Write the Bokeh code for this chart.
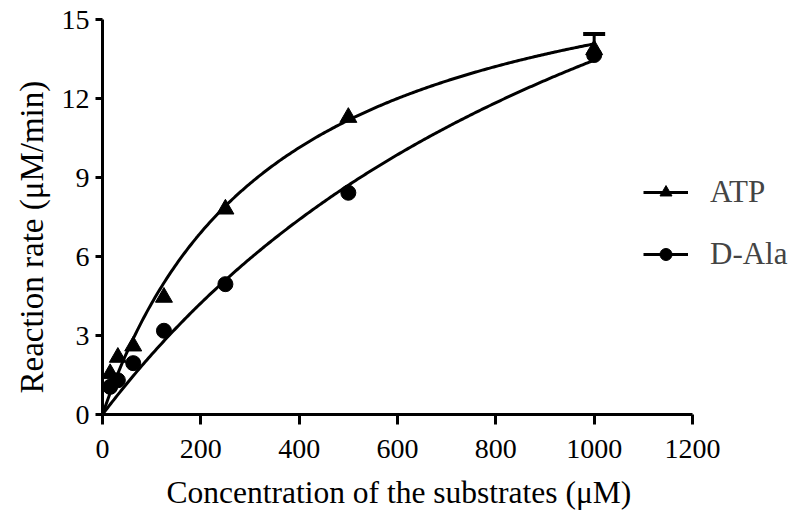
import numpy as np
from bokeh.plotting import figure
from bokeh.models import Range1d, FixedTicker, Legend, LegendItem, Whisker, ColumnDataSource, TeeHead, Title
from bokeh.embed import file_html
from bokeh.resources import INLINE

# ---- data ----
conc = [15.6, 31.25, 62.5, 125, 250, 500, 1000]
atp_rate = [1.55, 2.17, 2.6, 4.45, 7.8, 11.28, 13.85]
dala_rate = [1.05, 1.3, 1.95, 3.18, 4.95, 8.42, 13.65]
atp_err = [0, 0, 0, 0, 0, 0, 0.6]

# Michaelis-Menten fit parameters
atp_vmax, atp_km = 19.0, 350.0
dala_vmax, dala_km = 29.6, 1200.0

x_ticks = [0, 200, 400, 600, 800, 1000, 1200]
y_ticks = [0, 3, 6, 9, 12, 15]
x_axis_max = 1200
x_label = "Concentration of the substrates (μM)"
y_label = "Reaction rate (μM/min)"

FONT = "Liberation Serif"

# frame is wider than the x axis so the legend (which sits to the right) is not clipped
axis_px = 590
frame_w = 692
x_end = x_axis_max * frame_w / axis_px

p = figure(frame_width=frame_w, frame_height=395, output_backend="svg", toolbar_location=None,
           x_range=Range1d(0, x_end), y_range=Range1d(0, 15),
           min_border_left=102, min_border_top=19, min_border_right=4, min_border_bottom=110)
p.outline_line_color = None
p.xgrid.grid_line_color = None
p.ygrid.grid_line_color = None
p.background_fill_color = "white"

xfit = np.linspace(0, 1000, 300)
atp_fit = atp_vmax * xfit / (atp_km + xfit)
dala_fit = dala_vmax * xfit / (dala_km + xfit)

r_atp_line = p.line(xfit, atp_fit, line_color="black", line_width=3)
r_dala_line = p.line(xfit, dala_fit, line_color="black", line_width=3)

err_idx = [i for i, e in enumerate(atp_err) if e > 0]
src_err = ColumnDataSource(dict(x=[conc[i] for i in err_idx], lo=[atp_rate[i] for i in err_idx],
                                hi=[atp_rate[i] + atp_err[i] for i in err_idx]))
wh = Whisker(source=src_err, base="x", upper="hi", lower="lo", line_color="black", line_width=3,
             upper_head=TeeHead(size=22, line_width=4, line_color="black"), lower_head=None)
p.add_layout(wh)

r_atp_pts = p.scatter(conc, atp_rate, marker="triangle", size=17, fill_color="black", line_color="black")
r_dala_pts = p.scatter(conc, dala_rate, marker="circle", size=15, fill_color="black", line_color="black")

for ax in (p.xaxis[0], p.yaxis[0]):
    ax.axis_line_width = 3
    ax.axis_line_color = "black"
    ax.major_tick_line_width = 3
    ax.major_tick_line_color = "black"
    ax.minor_tick_line_color = None
    ax.major_tick_in = 0
    ax.major_label_text_font = FONT
    ax.major_label_text_font_size = "28px"
    ax.major_label_text_color = "black"

p.xaxis.ticker = FixedTicker(ticks=x_ticks)
p.yaxis.ticker = FixedTicker(ticks=y_ticks)
p.xaxis.bounds = (0, x_axis_max)
p.xaxis.major_tick_out = 10
p.yaxis.major_tick_out = 7
p.xaxis.major_label_standoff = 15
p.yaxis.major_label_standoff = 6

# axis titles placed as side titles so they can be centred on the drawn axis
xt = Title(text=x_label, align="left", offset=64, standoff=24,
           text_font=FONT, text_font_size="31.5px", text_font_style="normal", text_color="black")
p.add_layout(xt, "below")
yt = Title(text=y_label, align="left", offset=21, standoff=18,
           text_font=FONT, text_font_size="33px", text_font_style="normal", text_color="black")
p.add_layout(yt, "left")

legend = Legend(items=[LegendItem(label="ATP", renderers=[r_atp_line, r_atp_pts]),
                       LegendItem(label="D-Ala", renderers=[r_dala_line, r_dala_pts])],
                location=(541, 142), padding=0, margin=0, spacing=26,
                glyph_width=45, glyph_height=30, label_height=30, label_standoff=22,
                label_text_font=FONT, label_text_font_size="31px",
                border_line_color=None, background_fill_alpha=0)
p.add_layout(legend)

open("out.html", "w").write(file_html(p, INLINE))
